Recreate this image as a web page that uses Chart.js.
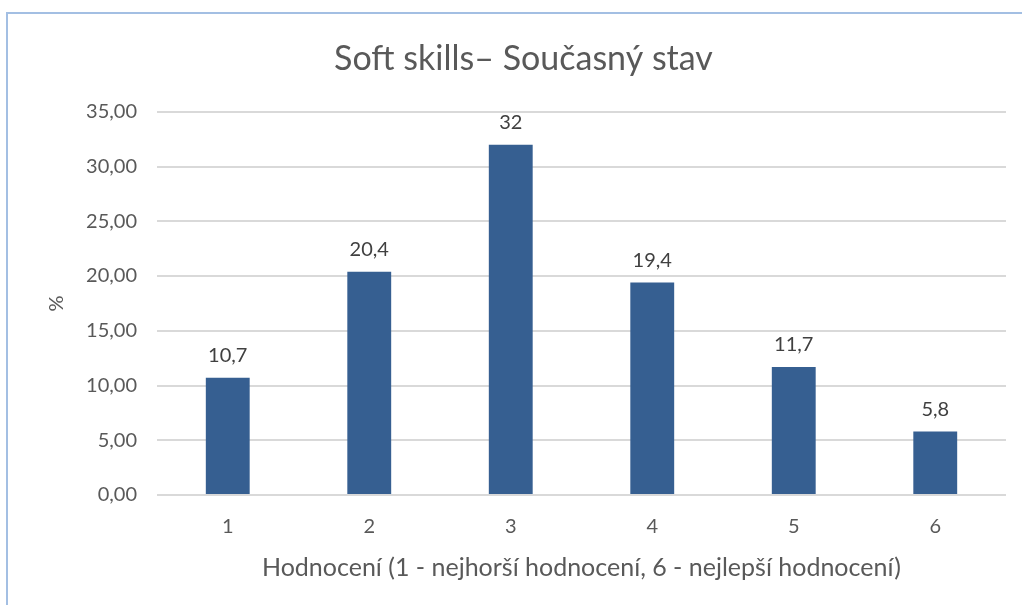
<!DOCTYPE html>
<html>
<head>
<meta charset="utf-8">
<script src="https://cdn.jsdelivr.net/npm/chart.js@4/dist/chart.umd.min.js"></script>
<style>
  html, body { margin: 0; padding: 0; background: #fff; overflow: hidden; }
  #frame { position: absolute; left: 6px; top: 12px; width: 1200px; height: 800px; border: 2px solid #a3bfe3; }
  #wrap { position: absolute; left: 0; top: 0; width: 1022px; height: 605px; }
</style>
</head>
<body>
<div id="frame"></div>
<div id="wrap"><canvas id="chart" width="1022" height="605"></canvas></div>
<script>
const categories = ['1', '2', '3', '4', '5', '6'];
const values = [10.7, 20.4, 32, 19.4, 11.7, 5.8];
const valueLabels = ['10,7', '20,4', '32', '19,4', '11,7', '5,8'];
const yMax = 35;
const yStep = 5;

const FONT = 'Lato, "Open Sans", sans-serif';
const TEXT = '#595959';

// draws the value above each bar
const barLabels = {
  id: 'barLabels',
  afterDatasetsDraw(chart) {
    const ctx = chart.ctx;
    const meta = chart.getDatasetMeta(0);
    ctx.save();
    ctx.font = '20px ' + FONT;
    ctx.fillStyle = '#404040';
    ctx.textAlign = 'center';
    ctx.textBaseline = 'bottom';
    meta.data.forEach((bar, i) => {
      ctx.fillText(valueLabels[i], bar.x, bar.y - 12);
    });
    ctx.restore();
  }
};

new Chart(document.getElementById('chart').getContext('2d'), {
  type: 'bar',
  data: {
    labels: categories,
    datasets: [{
      data: values,
      backgroundColor: '#365f91',
      borderWidth: 0,
      barPercentage: 0.31,
      categoryPercentage: 1
    }]
  },
  options: {
    responsive: false,
    animation: false,
    layout: { padding: { left: 41, right: 16, top: 20, bottom: 22 } },
    plugins: {
      legend: { display: false },
      tooltip: { enabled: false },
      title: {
        display: true,
        text: 'Soft skills– Současný stav',
        color: TEXT,
        font: { family: FONT, size: 34, weight: 'normal' },
        padding: { top: 19, bottom: 32 }
      }
    },
    scales: {
      x: {
        grid: { display: false },
        border: { display: false },
        ticks: { color: TEXT, font: { family: FONT, size: 20 }, padding: 12 },
        title: {
          display: true,
          text: 'Hodnocení (1 - nejhorší hodnocení, 6 - nejlepší hodnocení)',
          color: TEXT,
          font: { family: FONT, size: 25 },
          padding: { top: 14, bottom: 0 }
        },
        afterFit(scale) { scale.height = 88; }
      },
      y: {
        min: 0,
        max: yMax,
        ticks: {
          stepSize: yStep,
          color: TEXT,
          font: { family: FONT, size: 20 },
          padding: 20,
          callback: v => v.toFixed(2).replace('.', ',')
        },
        grid: { color: '#d9d9d9', lineWidth: 2, drawTicks: false },
        border: { display: false },
        title: {
          display: true,
          text: '%',
          color: TEXT,
          font: { family: FONT, size: 20 }
        },
        afterFit(scale) { scale.width = 116; }
      }
    }
  },
  plugins: [barLabels]
});
</script>
</body>
</html>
